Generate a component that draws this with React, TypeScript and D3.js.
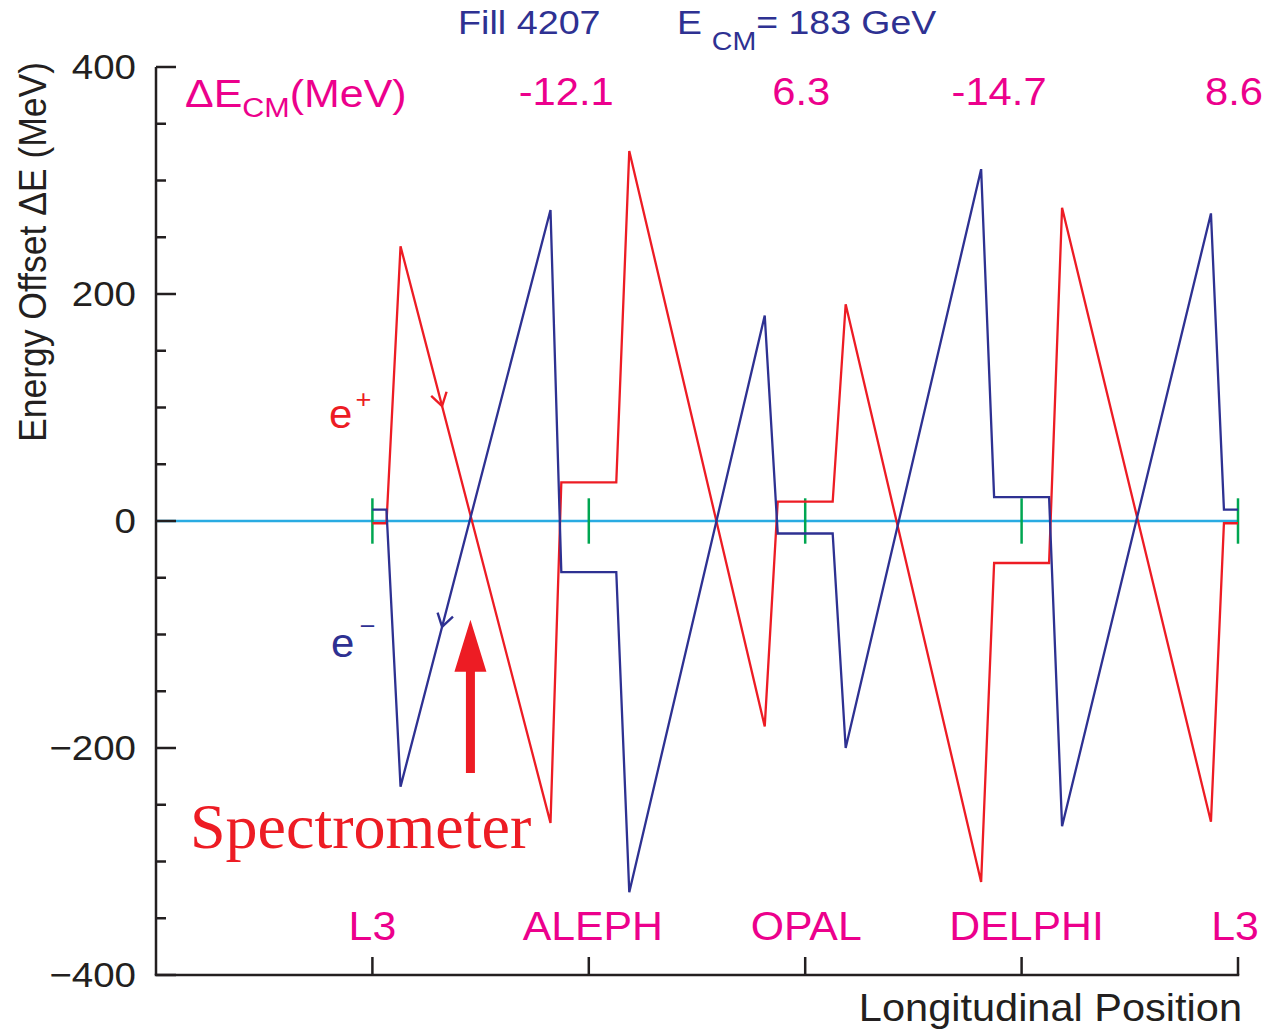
import React from "react";
import * as d3 from "d3";

// Longitudinal positions (0 = L3, 1 = ALEPH, 2 = OPAL, 3 = DELPHI, 4 = L3)
const positions = [0, 0.065, 0.13, 0.823, 0.873, 1.127, 1.187, 1.813, 1.873, 2.127, 2.187, 2.813, 2.873, 3.127, 3.187, 3.875, 3.935, 4];
// Energy offset of the positrons (MeV)
const ePlus = [-2, -2, 242, -266, 34, 34, 326, -181, 17, 17, 191, -318, -37, -37, 276, -265, -2, -2];
// Energy offset of the electrons (MeV)
const eMinus = [10, 10, -234, 274, -45, -45, -327, 181, -11, -11, -200, 310, 21, 21, -269, 271, 10, 10];

const experiments = ["L3", "ALEPH", "OPAL", "DELPHI", "L3"];
const experimentPos = [0, 1, 2, 3, 4];
const deltaEcm = ["-12.1", "6.3", "-14.7", "8.6"];
const deltaEcmPos = [1, 2, 3, 4];
const yTicksMajor = [-400, -200, 0, 200, 400];
const yTickLabels = ["\u2212400", "\u2212200", "0", "200", "400"];

const spectrometerPos = 0.453;
const spectrometerArrow = [-222, -87];
const arrowAt = 0.322;

const RED = "#ed1c24";
const BLUE = "#2e3192";
const CYAN = "#29abe2";
const GREEN = "#00a651";
const PINK = "#ec008c";
const AXIS = "#231f20";
const SANS = "'Liberation Sans', Arial, Helvetica, sans-serif";

function SText(props: {
  x: number;
  y: number;
  sx: number;
  size: number;
  fill: string;
  anchor?: string;
  family?: string;
  children?: React.ReactNode;
}) {
  return (
    <text
      transform={`translate(${props.x},${props.y}) scale(${props.sx},1)`}
      textAnchor={props.anchor || "start"}
      fontSize={props.size}
      fill={props.fill}
      fontFamily={props.family}
    >
      {props.children}
    </text>
  );
}

export default function App() {
  const x = d3.scaleLinear().domain([-1, 4]).range([156, 1238]);
  const y = d3.scaleLinear().domain([-400, 400]).range([975, 67]);

  const line = d3
    .line<[number, number]>()
    .x((d) => x(d[0]))
    .y((d) => y(d[1]));

  const plusPts: [number, number][] = positions.map((p, i) => [p, ePlus[i]]);
  const minusPts: [number, number][] = positions.map((p, i) => [p, eMinus[i]]);

  const minorTicks = d3.range(-400, 401, 50).filter((v) => v % 200 !== 0);

  const arrowHead = (pts: [number, number][], at: number, dirSign: number, color: string) => {
    let k = 0;
    for (let i = 0; i < pts.length - 1; i++) {
      if (pts[i][0] <= at && pts[i + 1][0] >= at) {
        k = i;
        break;
      }
    }
    const a = pts[k];
    const b = pts[k + 1];
    const t = (at - a[0]) / (b[0] - a[0]);
    const val = a[1] + t * (b[1] - a[1]);
    const tx = x(at);
    const ty = y(val);
    let dx = x(b[0]) - x(a[0]);
    let dy = y(b[1]) - y(a[1]);
    const len = Math.hypot(dx, dy);
    dx = (dx / len) * dirSign;
    dy = (dy / len) * dirSign;
    const ang = Math.atan2(-dy, -dx);
    const L = 15;
    const s = (32 * Math.PI) / 180;
    const p1 = [tx + L * Math.cos(ang + s), ty + L * Math.sin(ang + s)];
    const p2 = [tx + L * Math.cos(ang - s), ty + L * Math.sin(ang - s)];
    return (
      <path
        d={`M${p1[0]},${p1[1]}L${tx},${ty}L${p2[0]},${p2[1]}`}
        fill="none"
        stroke={color}
        strokeWidth={2.4}
      />
    );
  };

  const ax = x(spectrometerPos);
  const aTop = y(spectrometerArrow[1]);
  const aBot = y(spectrometerArrow[0]);
  const bigArrow = `M${ax - 4.5},${aBot}L${ax + 4.5},${aBot}L${ax + 4.5},${aTop + 52}L${ax + 16},${aTop + 52}L${ax},${aTop}L${ax - 16},${aTop + 52}L${ax - 4.5},${aTop + 52}Z`;

  const labelShift = [0, 4, 1, 5, -3];

  return (
    <svg
      width={1270}
      height={1032}
      style={{ position: "absolute", left: 0, top: 0, background: "#fff" }}
      fontFamily={SANS}
    >
      {/* zero line */}
      <line x1={x(-1)} x2={x(4)} y1={y(0)} y2={y(0)} stroke={CYAN} strokeWidth={2.5} />

      {/* green IP markers */}
      {experimentPos.map((p, i) => (
        <line key={"g" + i} x1={x(p)} x2={x(p)} y1={y(20)} y2={y(-20)} stroke={GREEN} strokeWidth={2.5} />
      ))}

      {/* beams */}
      <path d={line(plusPts) || ""} fill="none" stroke={RED} strokeWidth={2.3} />
      <path d={line(minusPts) || ""} fill="none" stroke={BLUE} strokeWidth={2.3} />
      {arrowHead(plusPts, arrowAt, 1, RED)}
      {arrowHead(minusPts, arrowAt, -1, BLUE)}

      {/* axes */}
      <line x1={x(-1)} x2={x(-1)} y1={y(400)} y2={y(-400)} stroke={AXIS} strokeWidth={2.5} />
      <line x1={x(-1) - 1.25} x2={x(4) + 1.25} y1={y(-400)} y2={y(-400)} stroke={AXIS} strokeWidth={2.5} />
      {yTicksMajor.map((v, i) => (
        <g key={"ym" + i}>
          <line x1={x(-1)} x2={x(-1) + 20} y1={y(v)} y2={y(v)} stroke={AXIS} strokeWidth={2.5} />
          <SText x={136} y={y(v) + 12} sx={1.1} size={35} fill={AXIS} anchor="end">
            {yTickLabels[i]}
          </SText>
        </g>
      ))}
      {minorTicks.map((v) => (
        <line key={"yn" + v} x1={x(-1)} x2={x(-1) + 10} y1={y(v)} y2={y(v)} stroke={AXIS} strokeWidth={2.5} />
      ))}
      {experimentPos.map((p, i) => (
        <line key={"xt" + i} x1={x(p)} x2={x(p)} y1={y(-400)} y2={y(-400) - 18} stroke={AXIS} strokeWidth={2.5} />
      ))}

      {/* experiment labels */}
      {experiments.map((e, i) => (
        <SText key={"ex" + i} x={x(experimentPos[i]) + labelShift[i]} y={940} sx={1.07} size={40} fill={PINK} anchor="middle">
          {e}
        </SText>
      ))}

      {/* delta E_CM values */}
      <SText x={185} y={107} sx={1.13} size={38} fill={PINK}>
        ΔE
        <tspan fontSize={27} dy={10}>CM</tspan>
        <tspan fontSize={38} dy={-10}>(MeV)</tspan>
      </SText>
      {deltaEcm.map((v, i) => (
        <SText key={"de" + i} x={x(deltaEcmPos[i]) + 25} y={105} sx={1.07} size={39} fill={PINK} anchor="end">
          {v}
        </SText>
      ))}

      {/* header */}
      <SText x={458} y={34} sx={1.11} size={34} fill={BLUE}>
        Fill 4207
      </SText>
      <SText x={677} y={34} sx={1.1} size={34} fill={BLUE}>
        E
        <tspan fontSize={26} dx={9} dy={16}>CM</tspan>
        <tspan fontSize={34} dy={-16}>= 183 GeV</tspan>
      </SText>

      {/* axis titles */}
      <text transform={`translate(46,252) scale(1.1,1) rotate(-90)`} textAnchor="middle" fontSize={35.5} fill={AXIS}>
        Energy Offset ΔE (MeV)
      </text>
      <SText x={1242} y={1021} sx={1.065} size={39} fill={AXIS} anchor="end">
        Longitudinal Position
      </SText>

      {/* beam labels */}
      <SText x={329} y={428} sx={1.05} size={40} fill={RED}>
        e
        <tspan fontSize={26} dx={3} dy={-20}>+</tspan>
      </SText>
      <SText x={331} y={657} sx={1.05} size={40} fill={BLUE}>
        e
        <tspan fontSize={26} dx={5} dy={-22}>−</tspan>
      </SText>

      {/* spectrometer */}
      <path d={bigArrow} fill={RED} />
      <text x={190} y={848} fontSize={64} fill={RED} fontFamily="'Liberation Serif', 'Times New Roman', serif">
        Spectrometer
      </text>
    </svg>
  );
}
